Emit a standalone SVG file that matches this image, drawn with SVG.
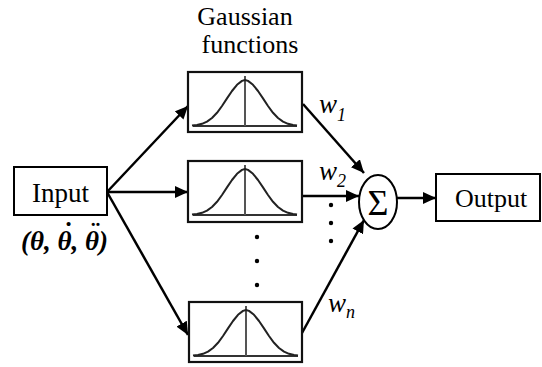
<svg xmlns="http://www.w3.org/2000/svg" xmlns:xlink="http://www.w3.org/1999/xlink" width="542" height="367" viewBox="0 0 542 367">
<style>
.box{fill:#fff;stroke:#000;stroke-width:2}
.gbox{fill:#fff;stroke:#111;stroke-width:2.2}
.t{font-family:"Liberation Serif","Times New Roman","DejaVu Serif",serif;fill:#000}
.conn{stroke:#000;stroke-width:2.5;fill:none;marker-end:url(#ah)}
.it{font-style:italic}
.th{font-weight:bold;font-style:italic}
</style>
<defs>
<marker id="ah" markerUnits="userSpaceOnUse" markerWidth="14" markerHeight="12" refX="13" refY="6" orient="auto">
<path d="M0,0 L13,6 L0,12 Z" fill="#000"/>
</marker>
<g id="bell">
<line x1="5" y1="54" x2="109" y2="54" stroke="#333" stroke-width="2"/>
<line x1="57" y1="4" x2="57" y2="54" stroke="#555" stroke-width="2"/>
<path d="M4,53.6 L9,53 L14,51.8 L19,49.6 L24,46 L29,40.8 L34,34 L39,26.4 L44,19 L49,12.8 L54,8.9 L57,8 L60,8.9 L65,12.8 L70,19 L75,26.4 L80,34 L85,40.8 L90,46 L95,49.6 L100,51.8 L105,53 L109,53.6" fill="none" stroke="#222" stroke-width="2" stroke-linejoin="round"/>
</g>
</defs>
<g id="connectors">
<path class="conn" d="M107,192 L188,106"/>
<path class="conn" d="M107,192 L188,192"/>
<path class="conn" d="M107,192 L188,335"/>
<path class="conn" d="M303,104 L364,173"/>
<path class="conn" d="M302,196 L359,196"/>
<path class="conn" d="M302,333 L364,220"/>
<path class="conn" d="M397,198 L436,198"/>
</g>
<g id="input">
<rect class="box" x="14" y="167" width="93" height="48"/>
<text class="t" x="60.5" y="202" font-size="27" text-anchor="middle">Input</text>
<text class="t th" font-size="27"><tspan x="21" y="250">(θ, θ, θ)</tspan><tspan x="67" y="241" text-anchor="middle">˙</tspan><tspan x="94" y="241" text-anchor="middle">¨</tspan></text>
</g>
<g id="title">
<text class="t" x="245" y="25" font-size="26" text-anchor="middle">Gaussian</text>
<text class="t" x="250" y="53" font-size="26" text-anchor="middle">functions</text>
</g>
<g id="gauss1">
<rect class="gbox" x="188" y="72" width="114" height="60"/>
<use xlink:href="#bell" x="188" y="72"/>
</g>
<g id="gauss2">
<rect class="gbox" x="188" y="161" width="114" height="61"/>
<use xlink:href="#bell" x="188" y="161"/>
</g>
<g id="gauss3">
<rect class="gbox" x="189" y="302" width="113" height="60"/>
<use xlink:href="#bell" x="189" y="302"/>
</g>
<g id="dots1">
<circle cx="257" cy="237" r="2.2"/>
<circle cx="257" cy="261" r="2.2"/>
<circle cx="257" cy="285" r="2.2"/>
</g>
<g id="dots2">
<circle cx="331" cy="205" r="2.2"/>
<circle cx="331" cy="223" r="2.2"/>
<circle cx="331" cy="241" r="2.2"/>
</g>
<g id="weights">
<text class="t it" x="319" y="113" font-size="27">w<tspan font-size="18" dy="8">1</tspan></text>
<text class="t it" x="319" y="180" font-size="27">w<tspan font-size="18" dy="7">2</tspan></text>
<text class="t it" x="328" y="312" font-size="27">w<tspan font-size="18" dy="6">n</tspan></text>
</g>
<g id="sum">
<ellipse cx="378" cy="202" rx="19" ry="27" fill="#fff" stroke="#000" stroke-width="2"/>
<text class="t" x="378" y="215" font-size="36" text-anchor="middle">Σ</text>
</g>
<g id="output">
<rect class="box" x="436" y="174" width="104" height="47"/>
<text class="t" x="491" y="207" font-size="26" text-anchor="middle">Output</text>
</g>
</svg>
